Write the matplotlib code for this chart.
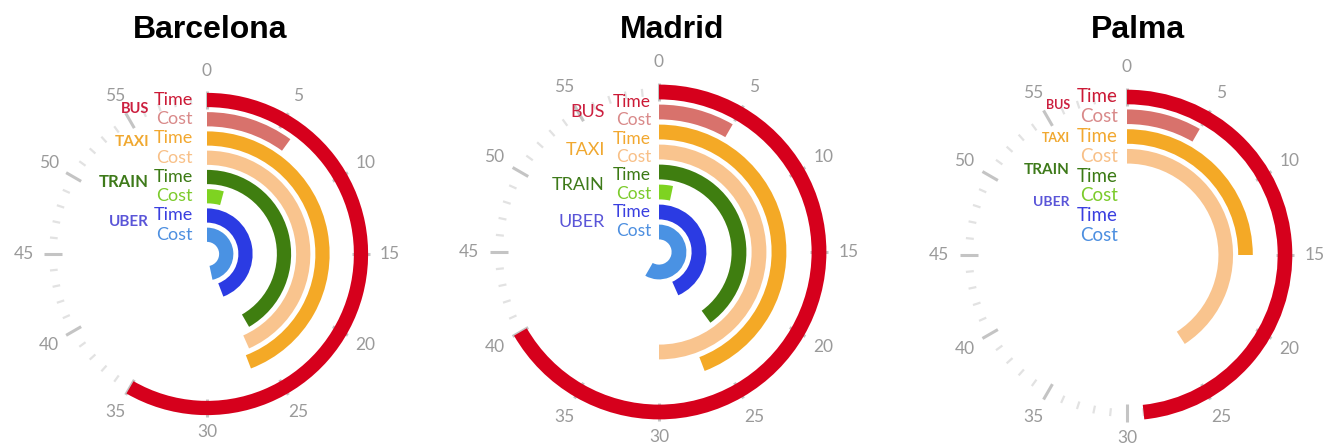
import matplotlib
matplotlib.use('Agg')
import matplotlib.pyplot as plt
import numpy as np

plt.rcParams['font.family'] = ['Lato', 'DejaVu Sans']

# ---------------- data ----------------
cities = ['Barcelona', 'Madrid', 'Palma']
modes = ['BUS', 'TAXI', 'TRAIN', 'UBER']
metrics = ['Time', 'Cost']
# values in minutes on a 60-minute clock face, order: BUS Time, BUS Cost, TAXI Time, TAXI Cost,
# TRAIN Time, TRAIN Cost, UBER Time, UBER Cost
barcelona_values = [35, 6, 26.5, 26, 25, 2.5, 26.5, 28]
madrid_values = [40, 5, 26.5, 30, 24, 2, 26, 35]
palma_values = [29, 5, 15, 24.5, 0, 0, 0, 0]
tick_values = list(range(0, 60, 5))
tick_labels = [str(v) for v in tick_values]

# ---------------- styles ----------------
bar_colors = ['#d6001c', '#d8726c', '#f4a926', '#f9c48e',
              '#3f7e10', '#7ed321', '#2b3be3', '#4a92e3']
label_colors = ['#cc1a36', '#d98a8a', '#f2a830', '#f8c088',
                '#3c7a14', '#7ccb2c', '#3a3fe0', '#4d8fe0']
name_colors = ['#cc2040', '#f0a830', '#3e7a1a', '#5a55d8']

W, H = 1334, 446
fig = plt.figure(figsize=(W / 100, H / 100), dpi=100)

layouts = [
    dict(center=(207, 254), unit=19.25, title_x=210, label_dx=-14, name_dx=-58,
         name_r=[7.55, 5.8, 3.75, 1.65], name_size=[10.5, 11, 12, 11], label_size=13,
         lscale=(1.0, 0.0), name_weight='bold'),
    dict(center=(659, 252), unit=20.0, title_x=672, label_dx=-8, name_dx=-54,
         name_r=[7.0, 5.1, 3.35, 1.5], name_size=[13, 13, 13, 13], label_size=12.5,
         lscale=(0.92, 0.15), name_weight='normal'),
    dict(center=(1127, 255), unit=19.75, title_x=1138, label_dx=-9, name_dx=-57,
         name_r=[7.6, 5.9, 4.3, 2.7], name_size=[9, 9, 11, 10], label_size=13.5,
         lscale=(1.0, 0.0), name_weight='bold'),
]
all_values = [barcelona_values, madrid_values, palma_values]

RMAX = 10.0
ring_r = [8, 7, 6, 5, 4, 3, 2, 1]
thick = 0.74

for city, vals, lay in zip(cities, all_values, layouts):
    cx, cy = lay['center']
    size = 2 * RMAX * lay['unit']
    left = (cx - size / 2) / W
    bottom = (H - cy - size / 2) / H
    ax = fig.add_axes([left, bottom, size / W, size / H], projection='polar')
    ax.set_theta_zero_location('N')
    ax.set_theta_direction(-1)
    ax.set_rlim(0, RMAX)
    ax.axis('off')

    # minute ticks
    for m in range(60):
        th = m * 2 * np.pi / 60
        if m % 5 == 0:
            ax.plot([th, th], [7.55, 8.45], color='#c4c4c4', lw=2.2, zorder=1,
                    solid_capstyle='butt')
        else:
            ax.plot([th, th], [7.8, 8.2], color='#e2e2e2', lw=1.6, zorder=1,
                    solid_capstyle='butt')

    # tick labels
    for v, lab in zip(tick_values, tick_labels):
        rr = 9.25 if v == 30 else 9.5
        ax.text(v * 2 * np.pi / 60, rr, lab, ha='center', va='center',
                fontsize=12.5, color='#9a9a9a', zorder=3)

    # bars
    for i, v in enumerate(vals):
        if v <= 0:
            continue
        ax.bar(0, thick, width=v * 2 * np.pi / 60, bottom=ring_r[i] - thick / 2,
               align='edge', color=bar_colors[i], edgecolor='none', zorder=2)

    # Time / Cost labels
    a, b = lay['lscale']
    for i in range(8):
        r = ring_r[i] * a + b
        ax.annotate(metrics[i % 2], xy=(0, r), xycoords='data',
                    xytext=(lay['label_dx'], 0), textcoords='offset pixels',
                    ha='right', va='center', fontsize=lay['label_size'],
                    color=label_colors[i], zorder=4)

    # mode names
    for j, mode in enumerate(modes):
        ax.annotate(mode, xy=(0, lay['name_r'][j]), xycoords='data',
                    xytext=(lay['name_dx'], 0), textcoords='offset pixels',
                    ha='right', va='center', fontsize=lay['name_size'][j],
                    fontweight=lay['name_weight'],
                    color=name_colors[j], zorder=4)

    fig.text(lay['title_x'] / W, 1 - 30 / H, city, ha='center', va='center',
             fontsize=23, fontweight='bold', family='Liberation Sans', color='black')

fig.savefig('out.png', dpi=100, facecolor='white')
